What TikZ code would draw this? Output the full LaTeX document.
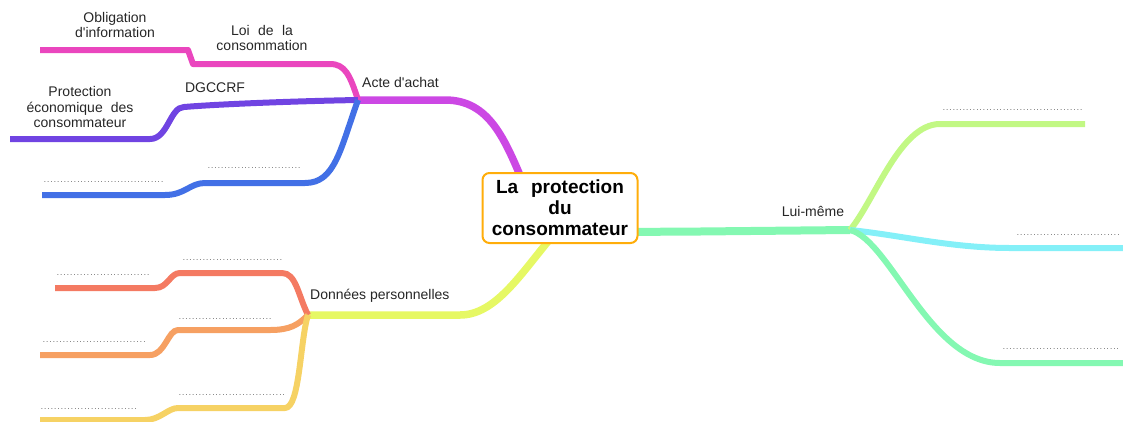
\documentclass[tikz,border=0pt]{standalone}
\usepackage{fontspec}
\setmainfont{Liberation Sans}
\usetikzlibrary{backgrounds,calc}
\definecolor{cacte}{HTML}{CC48E4}
\definecolor{cpink}{HTML}{EA46BE}
\definecolor{cpurple}{HTML}{7044E2}
\definecolor{cblue}{HTML}{4270E6}
\definecolor{cdon}{HTML}{E6F864}
\definecolor{cred}{HTML}{F47A62}
\definecolor{corange}{HTML}{F6A062}
\definecolor{cyellow}{HTML}{F6D264}
\definecolor{cgreen}{HTML}{84F8B2}
\definecolor{clime}{HTML}{C2F884}
\definecolor{ccyan}{HTML}{84F0F8}
\definecolor{cborder}{HTML}{FFAD0A}
\newcommand\dotrun[1]{\hbox to #1pt{\leaders\hbox to 3.35pt{\hss.\hss}\hfill}}
\begin{document}
\begin{tikzpicture}[x=1pt,y=-1pt,
  lbl/.style={font=\fontsize{14}{15.5}\selectfont, text=black!85, inner sep=0pt, align=center},
  dts/.style={font=\fontsize{8}{10}\selectfont, text=black!70, inner sep=0pt, anchor=base west},
  mainline/.style={line width=7.5pt, line join=round},
  subline/.style={line width=6pt, line join=round},
  titlebox/.style={draw=cborder, line width=2pt, rounded corners=7pt, fill=white,
    minimum width=155pt, minimum height=70pt, align=center, inner sep=2pt,
    font=\fontsize{19}{21}\selectfont\bfseries}]
\useasboundingbox (0,0) rectangle (1123,421);

\node[titlebox] (title) at (560,208) {La\hspace{0.4em} protection\\du\\consommateur};

\coordinate (acte) at (358,100);
\coordinate (donnees) at (308,315);
\coordinate (lui) at (850,230);

% free ends
\coordinate (e1) at (40,50);
\coordinate (e2) at (10,139);
\coordinate (e3) at (42,195);
\coordinate (e4) at (55,288);
\coordinate (e5) at (40,355);
\coordinate (e6) at (40,420);
\coordinate (e7) at (1085,124);
\coordinate (e8) at (1123,248);
\coordinate (e9) at (1123,363);

\begin{scope}[on background layer]
% main branches
\draw[mainline,cacte] ($(title.north)+(-35,15)$) .. controls (505,140) and (490,100) .. (445,100) -- (acte);
\draw[mainline,cdon] ($(title.south)+(-10,-5)$) .. controls (520,275) and (495,315) .. (460,315) -- (donnees);
\draw[mainline,cgreen,line width=8pt] ($(title.east)+(-20,24)$) -- (700,231.5) -- (lui);
\end{scope}

% Acte d'achat sub-branches
\draw[subline,cpink] (acte) .. controls (350,75) and (345,64) .. (330,64) -- (193,64) -- (188,50) -- (e1);
\draw[subline,cpurple] (acte) .. controls (300,101) and (220,104) .. (184,107) .. controls (170,107) and (168,139) .. (150,139) -- (e2);
\draw[subline,cblue] (acte) .. controls (340,150) and (335,183) .. (305,183) -- (205,183) .. controls (190,183) and (185,195) .. (165,195) -- (e3);

% Données personnelles sub-branches
\draw[subline,cred] (donnees) .. controls (298,295) and (296,273) .. (282,273) -- (180,273) .. controls (170,273) and (168,288) .. (155,288) -- (e4);
\draw[subline,corange] (donnees) .. controls (298,325) and (290,330) .. (270,330) -- (178,330) .. controls (168,330) and (165,355) .. (150,355) -- (e5);
\draw[subline,cyellow] (donnees) .. controls (300,340) and (300,408) .. (285,408) -- (178,408) .. controls (168,408) and (160,420) .. (145,420) -- (e6);

% Lui-même sub-branches
\draw[subline,clime] (lui) .. controls (875,200) and (900,124) .. (940,124) -- (e7);
\draw[subline,ccyan] (lui) .. controls (900,235) and (950,248) .. (1010,248) -- (e8);
\draw[subline,cgreen] (lui) .. controls (890,240) and (930,363) .. (1000,363) -- (e9);

% labels
\node[lbl] (l1) at (115,25) {Obligation\\d\textquotesingle information};
\node[lbl] (l2) at (262,38) {\hbox to 62pt{Loi\hfil de\hfil la}\\consommation};
\node[lbl, anchor=west] (l3) at (362,82) {Acte d\textquotesingle achat};
\node[lbl] (l4) at (215,88) {DGCCRF};
\node[lbl] (l5) at (80,107) {Protection\\économique\hspace{0.3em} des\\consommateur};
\node[lbl, anchor=west] (l6) at (310,296) {Données personnelles};
\node[lbl] (l7) at (813,211) {Lui-même};

% dotted placeholders
\node[dts] (d1) at (207,168) {\dotrun{96}};
\node[dts] (d2) at (43,182) {\dotrun{122}};
\node[dts] (d3) at (182,260) {\dotrun{101}};
\node[dts] (d4) at (56,275) {\dotrun{97}};
\node[dts] (d5) at (178,319) {\dotrun{95}};
\node[dts] (d6) at (42,342) {\dotrun{106}};
\node[dts] (d7) at (178,395) {\dotrun{109}};
\node[dts] (d8) at (40,409) {\dotrun{100}};
\node[dts] (d9) at (942,110) {\dotrun{141}};
\node[dts] (d10) at (1016,235) {\dotrun{106}};
\node[dts] (d11) at (1002,349) {\dotrun{120}};
\end{tikzpicture}
\end{document}
